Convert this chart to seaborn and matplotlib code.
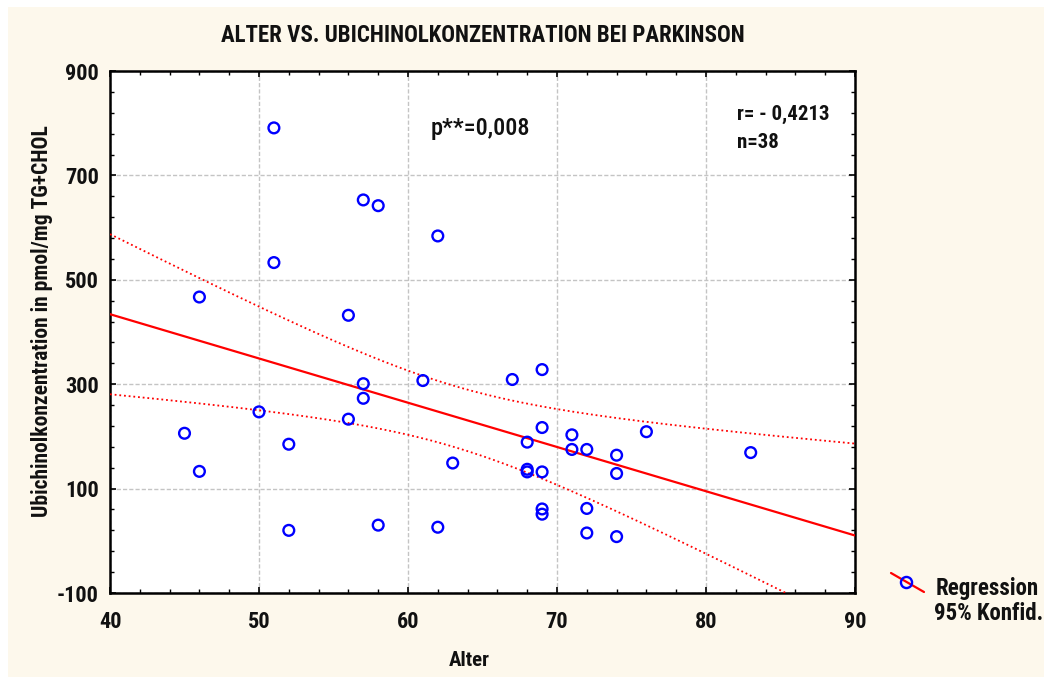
import numpy as np
import pandas as pd
import matplotlib
matplotlib.use("Agg")
import matplotlib.pyplot as plt
import seaborn as sns
from matplotlib.lines import Line2D
from matplotlib.patches import Rectangle

# ---- data ----
alter = [51, 57, 58, 62, 51, 46, 56, 57, 57, 61, 67, 69, 50, 56, 69, 71, 68, 71, 72,
         76, 74, 83, 45, 52, 46, 63, 68, 68, 69, 74, 72, 69, 69, 58, 62, 52, 72, 74]
ubichinol = [791, 653, 642, 584, 533, 467, 432, 301, 273, 307, 309, 328, 247, 233, 217,
             203, 189, 175, 175, 209, 164, 169, 206, 185, 133, 149, 137, 132, 132, 129,
             62, 61, 51, 30, 26, 20, 15, 8]

title = "ALTER VS. UBICHINOLKONZENTRATION BEI PARKINSON"
xlabel = "Alter"
ylabel = "Ubichinolkonzentration in pmol/mg TG+CHOL"
p_text = "p**=0,008"
r_text = "r= - 0,4213"
n_text = "n=38"
legend_labels = ["Regression", "95% Konfid."]
xticks = [40, 50, 60, 70, 80, 90]
yticks = [-100, 100, 300, 500, 700, 900]

df = pd.DataFrame({"Alter": alter, "Ubichinol": ubichinol})

sns.set_style("white")
FONT = ["Roboto Condensed", "DejaVu Sans"]
plt.rcParams["font.family"] = FONT
plt.rcParams["axes.unicode_minus"] = False
TXT = "#111111"

cream = "#fdf8ec"
fig = plt.figure(figsize=(10.44, 6.77), dpi=100, facecolor="white")
fig.add_artist(Rectangle((8 / 1044, 0), 1, 1 - 7 / 677, transform=fig.transFigure,
                         facecolor=cream, edgecolor="none", zorder=-10))
ax = fig.add_axes([110 / 1044, 1 - 593 / 677, (855 - 110) / 1044, (593 - 71) / 677])
ax.set_facecolor("white")

# regression with 95% confidence band
x = np.asarray(alter, float)
y = np.asarray(ubichinol, float)
n = len(x)
b, a = np.polyfit(x, y, 1)
xs = np.linspace(40, 90, 300)
yhat = a + b * xs
resid = y - (a + b * x)
s = np.sqrt(np.sum(resid ** 2) / (n - 2))
sxx = np.sum((x - x.mean()) ** 2)
tval = 2.028
half = tval * s * np.sqrt(1 / n + (xs - x.mean()) ** 2 / sxx)

ax.plot(xs, yhat, color="#ff0000", lw=1.6, zorder=3)
ax.plot(xs, yhat + half, color="#ff0000", lw=1.3, ls=(0, (1, 1.6)), zorder=3)
ax.plot(xs, yhat - half, color="#ff0000", lw=1.3, ls=(0, (1, 1.6)), zorder=3)

sns.scatterplot(data=df, x="Alter", y="Ubichinol", ax=ax, marker="o", s=60,
                facecolor="none", edgecolor="#0000ff", linewidth=1.7, zorder=4)

ax.set_xlim(40, 90)
ax.set_ylim(-100, 900)
ax.set_xticks(xticks)
ax.set_yticks(yticks)
ax.set_xticks(np.arange(40, 91, 2), minor=True)
ax.set_yticks(np.arange(-100, 901, 40), minor=True)
ax.tick_params(which="both", direction="in", top=True, right=True, bottom=True, left=True,
               color="black", labelcolor=TXT)
ax.tick_params(which="major", length=4, width=1.2, labelsize=16)
ax.tick_params(axis="x", which="major", pad=13)
ax.tick_params(axis="y", which="major", pad=8)
ax.tick_params(which="minor", length=3, width=1.0)
for lab in ax.get_xticklabels() + ax.get_yticklabels():
    lab.set_fontweight("bold")
ax.grid(True, which="major", color="#c4c4c4", ls=(0, (3, 1.5)), lw=1.0)
for sp in ax.spines.values():
    sp.set_color("black")
    sp.set_linewidth(1.8)

ax.set_xlabel("")
ax.set_ylabel("")
fig.text(469 / 1044, 1 - 660 / 677, xlabel, ha="center", va="center", fontsize=15,
         fontweight="bold", color=TXT)
fig.text(42 / 1044, 1 - 321 / 677, ylabel, ha="center", va="center", rotation=90,
         fontsize=15.5, fontweight="bold", color=TXT)
fig.text(483 / 1044, 1 - 35 / 677, title, ha="center", va="center", fontsize=16.5,
         fontweight="bold", color=TXT)

fig.text(480 / 1044, 1 - 128 / 677, p_text, ha="center", va="center",
         fontsize=17.5, fontweight="medium", color=TXT)
fig.text(737 / 1044, 1 - 114 / 677, r_text, ha="left", va="center",
         fontsize=15, fontweight="bold", color=TXT)
fig.text(737 / 1044, 1 - 142 / 677, n_text, ha="left", va="center",
         fontsize=15, fontweight="bold", color=TXT)

# legend
fig.add_artist(Line2D([891 / 1044, 924 / 1044], [1 - 573 / 677, 1 - 592 / 677],
                      transform=fig.transFigure, color="#ff0000", lw=1.6))
fig.add_artist(Line2D([906 / 1044], [1 - 582 / 677], transform=fig.transFigure,
                      marker="o", ms=8, mfc="none", mec="#0000ff", mew=1.7, ls="none"))
fig.text(936 / 1044, 1 - 588 / 677, legend_labels[0], ha="left", va="center",
         fontsize=16.5, fontweight="bold", color=TXT)
fig.text(934 / 1044, 1 - 613 / 677, legend_labels[1], ha="left", va="center",
         fontsize=16.5, fontweight="bold", color=TXT)

fig.savefig("out.png", dpi=100, facecolor=fig.get_facecolor())
